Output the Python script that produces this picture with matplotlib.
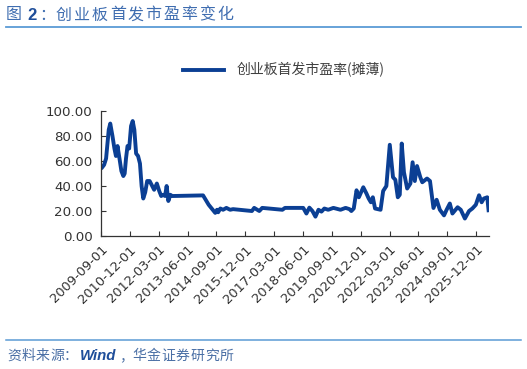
import numpy as np
import pandas as pd
import matplotlib
matplotlib.use("Agg")
import matplotlib.pyplot as plt

plt.rcParams['font.family'] = ['Noto Sans CJK SC', 'DejaVu Sans']

# 创业板首发市盈率(摊薄)，读图估计
dates = [
    '2009-09-20', '2009-10-20', '2009-11-20', '2010-01-01', '2010-01-25', '2010-03-01',
    '2010-04-01', '2010-04-25', '2010-05-20', '2010-06-20', '2010-07-20', '2010-08-20',
    '2010-09-10', '2010-10-01', '2010-10-25', '2010-11-20', '2010-12-20', '2011-01-15',
    '2011-02-10', '2011-03-10', '2011-04-10', '2011-05-10', '2011-06-05', '2011-07-01',
    '2011-08-01', '2011-09-01', '2011-10-10', '2011-11-10', '2011-12-20', '2012-02-01',
    '2012-03-10', '2012-04-10', '2012-05-10', '2012-06-10', '2012-07-05', '2012-08-01',
    '2012-09-01', '2012-10-01', '2014-02-01', '2014-05-01', '2014-08-13', '2014-09-10',
    '2014-09-28', '2014-11-01', '2014-12-15', '2015-02-05', '2015-04-05', '2015-05-22',
    '2016-03-15', '2016-04-20', '2016-07-10', '2016-08-25', '2017-07-10', '2017-08-20',
    '2018-06-05', '2018-07-25', '2018-09-10', '2018-10-28', '2018-12-15', '2019-02-01',
    '2019-03-20', '2019-05-05', '2019-07-05', '2019-09-25', '2020-01-15', '2020-04-05',
    '2020-06-05', '2020-07-05', '2020-08-12', '2020-09-25', '2020-11-01', '2021-01-10',
    '2021-03-01', '2021-04-05', '2021-05-10', '2021-06-10', '2021-07-15', '2021-10-10',
    '2021-11-20', '2022-01-10', '2022-03-05', '2022-04-25', '2022-06-01', '2022-07-10',
    '2022-08-10', '2022-09-10', '2022-10-15', '2022-12-05', '2023-01-25', '2023-03-01',
    '2023-04-05', '2023-05-10', '2023-07-01', '2023-08-01', '2023-10-15', '2023-12-01',
    '2024-01-25', '2024-03-15', '2024-05-05', '2024-07-10', '2024-08-20', '2024-10-10',
    '2024-11-20', '2025-02-10', '2025-04-01', '2025-06-05', '2025-08-10', '2025-10-01',
    '2025-11-25', '2026-01-15', '2026-02-25', '2026-04-01', '2026-05-25', '2026-06-15',
]
pe = [
    55, 57, 62, 85, 90, 80,
    70, 64, 72, 62, 52, 48,
    50, 62, 72, 70, 88, 92,
    85, 66, 64, 58, 40, 30,
    35, 44, 44, 41, 37, 42,
    36, 32, 33, 32, 40, 28,
    33, 32, 32.5, 25, 18.5, 21,
    19, 22, 21, 22.5, 21, 21.5,
    20, 22.5, 20, 22.5, 21, 22.5,
    22.5, 18, 22.7, 20, 15.5, 21,
    19.5, 22, 21, 22.5, 21, 22.5,
    21.5, 20, 22, 36.6, 31, 39,
    34, 30, 27, 31, 22, 21,
    36, 40, 73, 47, 45, 31,
    33, 74, 51, 38, 42, 59,
    44, 56, 47, 43, 46, 44,
    22.4, 29, 21, 16.5, 21, 26,
    18, 23, 21, 14, 20, 22,
    25, 32.6, 27, 30, 31, 20.6,
]
tick_dates = ['2009-09-01', '2010-12-01', '2012-03-01', '2013-06-01', '2014-09-01',
              '2015-12-01', '2017-03-01', '2018-06-01', '2019-09-01', '2020-12-01',
              '2022-03-01', '2023-06-01', '2024-09-01', '2025-12-01']
y_ticks = [0, 20, 40, 60, 80, 100]

x = pd.to_datetime(dates)
xt = pd.to_datetime(tick_dates)

fig = plt.figure(figsize=(5.27, 3.69), dpi=100)
ax = fig.add_axes([0.1917, 0.3604, 0.736, 0.3387])

line_color = '#0B3F94'
ax.plot(x, pe, color=line_color, lw=2.8, solid_joinstyle='round',
        label='创业板首发市盈率(摊薄)')

ax.set_xlim(pd.Timestamp('2009-09-01'), pd.Timestamp('2026-06-20'))
ax.set_ylim(0, 100)
ax.set_yticks(y_ticks)
ax.set_yticklabels(['%.2f' % v for v in y_ticks], family='DejaVu Sans', fontsize=9.6)
ax.set_xticks(xt)
ax.set_xticklabels(tick_dates, rotation=45, ha='right', rotation_mode='anchor',
                   family='DejaVu Sans', fontsize=9.4)
ax.tick_params(direction='in', length=3.5, width=0.8, colors='#333333')
ax.tick_params(axis='x', pad=5)
ax.tick_params(axis='y', pad=6)
for s in ['top', 'right']:
    ax.spines[s].set_visible(False)
for s in ['left', 'bottom']:
    ax.spines[s].set_color('#333333')
    ax.spines[s].set_linewidth(0.9)

# legend
fig.legend(loc='center left', bbox_to_anchor=(170 / 527, 1 - 70 / 369), frameon=False,
           fontsize=10, handlelength=3.0, handletextpad=0.9,
           labelcolor='#404040')

# title, wide letter spacing
title_chars = ['图', '2', '：', '创', '业', '板', '首', '发', '市', '盈', '率', '变', '化']
title_x = [6, 27, 39] + [56 + 17.9 * i for i in range(10)]
for ch, xp in zip(title_chars, title_x):
    if ch == '2':
        fig.text(xp / 527, 1 - 15 / 369, ch, fontsize=12, color='#1F4E9A',
                 weight='bold', va='center', ha='left', family='Liberation Sans')
    else:
        fig.text(xp / 527, 1 - 15 / 369, ch, fontsize=11.5, color='#3F6DB0',
                 va='center', ha='left')

fig.add_artist(plt.Line2D([6 / 527, 521 / 527], [1 - 27 / 369, 1 - 27 / 369],
                          color='#5B9BD5', lw=1.3))
fig.add_artist(plt.Line2D([6 / 527, 521 / 527], [1 - 340 / 369, 1 - 340 / 369],
                          color='#5B9BD5', lw=1.1))

# source note
src1 = ['资', '料', '来', '源', '：']
src1_x = [7, 21.5, 36, 50, 64]
for ch, xp in zip(src1, src1_x):
    fig.text(xp / 527, 1 - 356 / 369, ch, fontsize=10, color='#4A6FA5',
             va='center', ha='left')
fig.text(80 / 527, 1 - 356 / 369, 'Wind', fontsize=10.8, color='#1F4E9A',
         style='italic', weight='bold', va='center', family='Liberation Sans')
src2 = ['，', '华', '金', '证', '券', '研', '究', '所']
src2_x = [119, 132, 146.6, 161.2, 175.8, 190.4, 205, 219.6]
for ch, xp in zip(src2, src2_x):
    fig.text(xp / 527, 1 - 356 / 369, ch, fontsize=10, color='#4A6FA5',
             va='center', ha='left')

fig.savefig('out.png', dpi=100)
